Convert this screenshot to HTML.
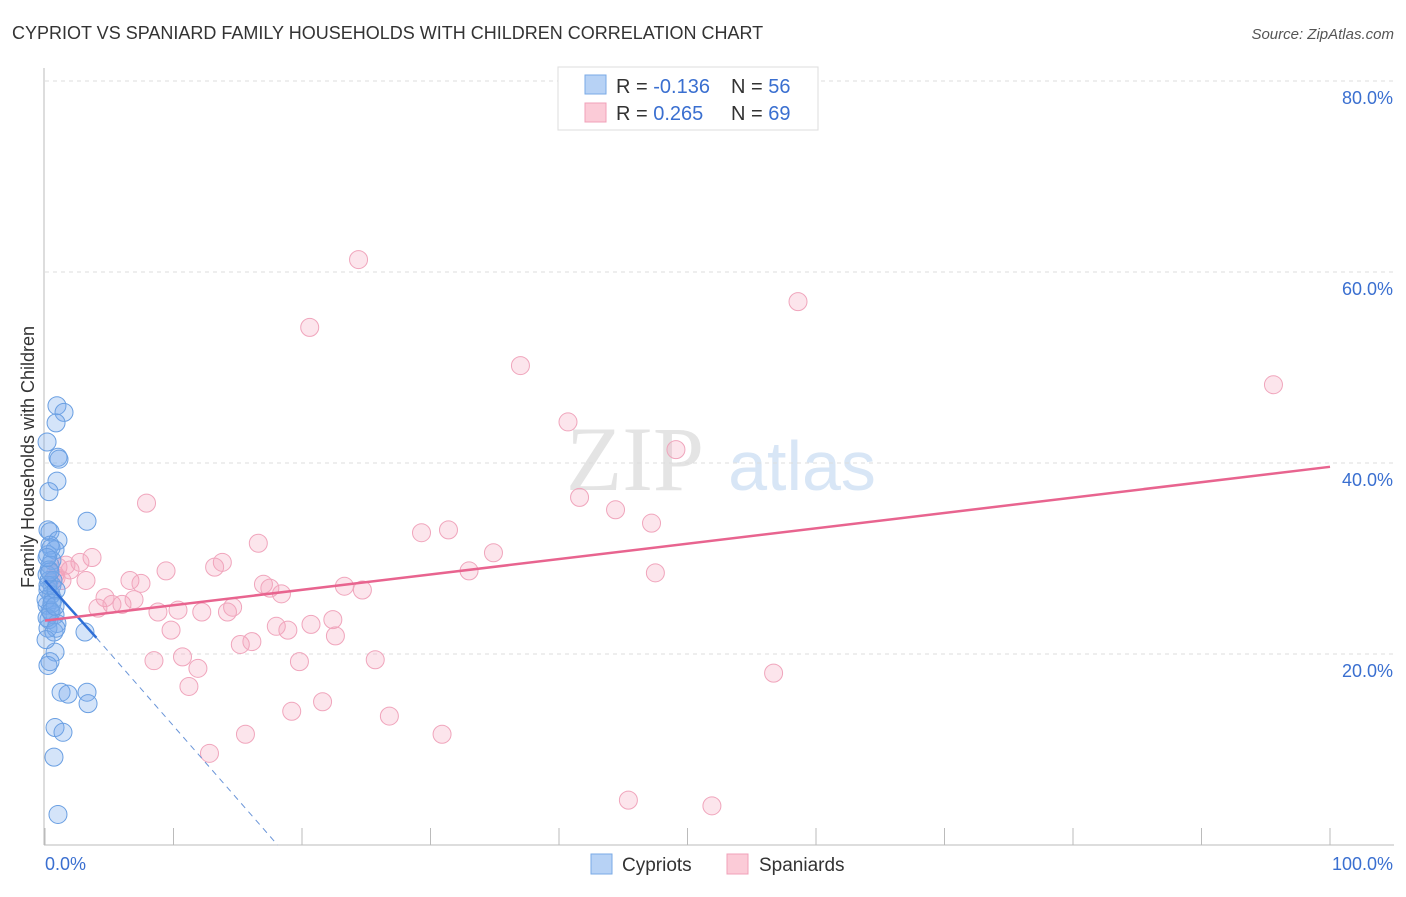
<!DOCTYPE html>
<html><head><meta charset="utf-8"><style>
body{margin:0;background:#fff;font-family:"Liberation Sans",sans-serif}
</style></head><body>
<svg width="1406" height="892" xmlns="http://www.w3.org/2000/svg" style="font-family:'Liberation Sans',sans-serif">
<text x="12" y="39" font-size="18" fill="#333">CYPRIOT VS SPANIARD FAMILY HOUSEHOLDS WITH CHILDREN CORRELATION CHART</text>
<text x="1394" y="39" font-size="15" fill="#555" text-anchor="end" font-style="italic">Source: ZipAtlas.com</text>
<g>
<text x="635" y="490" font-size="92" fill="#e4e4e4" text-anchor="middle" font-family="Liberation Serif,serif">ZIP</text>
<text x="802" y="490" font-size="70" fill="#d8e6f6" text-anchor="middle">atlas</text>
</g>
<g id="grid"></g>
<g id="axes"></g>
<g id="pts"></g>
<g id="trends"></g>
<text x="0" y="0" font-size="18" fill="#333" text-anchor="middle" transform="translate(34 457) rotate(-90)">Family Households with Children</text>
<g>
<rect x="558" y="67" width="260" height="63" fill="#fff" stroke="#ddd"/>
<rect x="585" y="75" width="21" height="19" fill="#b7d2f5" stroke="#7aaae6"/>
<rect x="585" y="103" width="21" height="19" fill="#fbcbd7" stroke="#f0a0b8"/>
<text x="616" y="93" font-size="20" fill="#333">R = <tspan fill="#3a6fd0">-0.136</tspan><tspan x="731">N = </tspan><tspan fill="#3a6fd0">56</tspan></text>
<text x="616" y="120" font-size="20" fill="#333">R = <tspan fill="#3a6fd0"> 0.265</tspan><tspan x="731">N = </tspan><tspan fill="#3a6fd0">69</tspan></text>
</g>
<g>
<rect x="591" y="854" width="21" height="20" fill="#b7d2f5" stroke="#7aaae6"/>
<text x="622" y="871" font-size="19" fill="#333">Cypriots</text>
<rect x="727" y="854" width="21" height="20" fill="#fbcbd7" stroke="#f0a0b8"/>
<text x="759" y="871" font-size="19" fill="#333">Spaniards</text>
</g>
</svg>
<script>
const blueX=[0.93,1.48,0.86,0.16,1.01,1.09,0.93,0.31,3.27,0.23,0.39,1.01,0.39,0.78,0.23,0.54,0.39,0.16,0.31,0.54,0.23,0.47,0.62,0.16,0.39,0.78,0.31,0.93,0.23,0.70,3.11,0.78,0.39,0.23,1.25,1.79,3.27,3.35,0.78,1.40,0.70,1.01,0.08,0.54,0.16,0.31,0.47,0.86,0.08,0.62,0.23,0.86,0.39,0.16,0.47,0.78];
const blueY=[46.0,45.3,44.2,42.2,40.6,40.4,38.1,37.0,33.9,33.0,32.8,31.9,31.4,30.9,30.4,29.8,29.3,28.3,27.7,27.2,26.7,26.2,25.7,25.1,24.6,24.1,23.6,23.2,22.7,22.3,22.3,20.2,19.2,18.8,16.0,15.8,16.0,14.8,12.3,11.8,9.2,3.2,25.7,25.3,23.8,28.8,31.1,22.7,21.5,27.7,27.2,26.7,28.6,30.1,24.4,25.0];
const pinkX=[24.4,20.6,58.6,37.0,95.6,40.7,49.1,7.9,41.6,44.4,47.2,31.4,29.3,16.6,34.9,3.66,2.72,1.63,1.01,1.95,0.78,1.32,3.19,9.42,13.8,13.2,6.61,7.47,17.0,18.4,17.5,23.3,24.7,33.0,47.5,4.67,5.21,5.99,4.12,6.93,10.35,8.79,12.2,14.6,14.2,22.4,20.7,18.0,18.9,9.81,22.6,15.2,16.1,8.48,10.7,19.8,25.7,11.9,11.2,56.7,21.6,19.2,26.8,15.6,30.9,12.8,45.4,51.9,0.86];
const pinkY=[61.3,54.2,56.9,50.2,48.2,44.3,41.4,35.8,36.4,35.1,33.7,33.0,32.7,31.6,30.6,30.1,29.6,29.3,29.1,28.8,28.3,27.7,27.7,28.7,29.6,29.1,27.7,27.4,27.3,26.3,26.9,27.1,26.7,28.7,28.5,25.9,25.2,25.2,24.8,25.7,24.6,24.4,24.4,24.9,24.4,23.6,23.1,22.9,22.5,22.5,21.9,21.0,21.3,19.3,19.7,19.2,19.4,18.5,16.6,18.0,15.0,14.0,13.5,11.6,11.6,9.6,4.7,4.1,28.0];
const yTicks=[20,40,60,80];
const yTickLabels=["20.0%","40.0%","60.0%","80.0%"];
const xEndLabels=["0.0%","100.0%"];
const blueTrend=[[0,27.7],[4.0,21.7]];
const blueTrendDash=[[4.0,21.7],[18.1,0]];
const pinkTrend=[[0,23.5],[100,39.6]];

const NS="http://www.w3.org/2000/svg";
const X=v=>45+v*12.85, Y=v=>845-v*9.55;
function mk(tag,attrs,parent){const e=document.createElementNS(NS,tag);for(const k in attrs)e.setAttribute(k,attrs[k]);parent.appendChild(e);return e;}
const grid=document.getElementById('grid'),axes=document.getElementById('axes'),pts=document.getElementById('pts'),tr=document.getElementById('trends');
yTicks.forEach((t,i)=>{
  const l=mk('line',{x1:45,x2:1394,y1:Y(t),y2:Y(t),stroke:'#ddd','stroke-dasharray':'4,4'},grid);
  
  
  const tx=mk('text',{x:1393,y:Y(t)+23,'font-size':18,fill:'#3a6fd0','text-anchor':'end'},grid);
  tx.textContent=yTickLabels[i];
  
  
});
mk('line',{x1:44,x2:44,y1:68,y2:845,stroke:'#bbb'},axes);
mk('line',{x1:44,x2:1394,y1:845,y2:845,stroke:'#bbb'},axes);
for(let i=0;i<=10;i++){const t=mk('line',{x1:X(i*10),x2:X(i*10),y1:828,y2:845,stroke:'#bbb'},axes);
  
  }
const l0=mk('text',{x:45,y:870,'font-size':18,fill:'#3a6fd0'},axes);l0.textContent=xEndLabels[0];


const l1=mk('text',{x:1393,y:870,'font-size':18,fill:'#3a6fd0','text-anchor':'end'},axes);l1.textContent=xEndLabels[1];


pinkX.forEach((v,i)=>{const c=mk('circle',{cx:X(v),cy:Y(pinkY[i]),r:9,fill:'rgba(245,160,185,0.28)',stroke:'#f0a5bc','stroke-width':1},pts);
  
  });
blueX.forEach((v,i)=>{const c=mk('circle',{cx:X(v),cy:Y(blueY[i]),r:9,fill:'rgba(120,170,235,0.32)',stroke:'#6a9fe2','stroke-width':1},pts);
  
  });
const bt=mk('line',{x1:X(blueTrend[0][0]),y1:Y(blueTrend[0][1]),x2:X(blueTrend[1][0]),y2:Y(blueTrend[1][1]),stroke:'#2f6fd6','stroke-width':2.5},tr);


const bd=mk('line',{x1:X(blueTrendDash[0][0]),y1:Y(blueTrendDash[0][1]),x2:X(blueTrendDash[1][0]),y2:Y(blueTrendDash[1][1]),stroke:'#6a95d8','stroke-width':1,'stroke-dasharray':'6,5'},tr);


const pt=mk('line',{x1:X(pinkTrend[0][0]),y1:Y(pinkTrend[0][1]),x2:X(pinkTrend[1][0]),y2:Y(pinkTrend[1][1]),stroke:'#e8648f','stroke-width':2.5},tr);


</script>
</body></html>
